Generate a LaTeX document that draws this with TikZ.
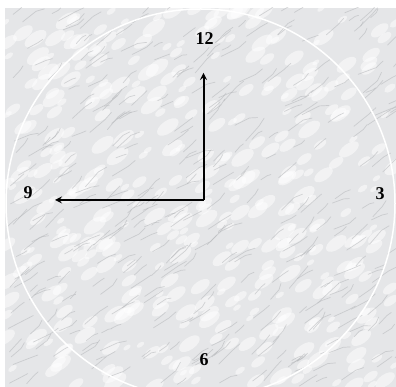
\documentclass[tikz,border=0pt]{standalone}
\usepackage{fontspec}
\setmainfont{Liberation Serif}
\usetikzlibrary{arrows}
\definecolor{marbre}{RGB}{229,230,232}
\definecolor{veine}{RGB}{180,182,185}
\tikzset{
  chiffre/.style={font=\fontsize{18}{18}\selectfont\bfseries, inner sep=0pt},
  aiguille/.style={line width=2pt, -stealth},
  tache/.style={white, opacity=.5},
  fil/.style={veine, line width=.7pt, opacity=.55, line cap=round, line join=round}
}

\begin{document}
\begin{tikzpicture}[x=1pt,y=1pt]
    \useasboundingbox (0,0) rectangle (396,387);
    \clip (0,0) rectangle (396,387);

    % Fond en marbre
    \fill[marbre] (5,0) rectangle (396,379);
    \begin{scope}
    \clip (5,0) rectangle (396,379);
    \pgfmathsetseed{7}
    \foreach \i in {1,...,420}{
      \pgfmathsetmacro{\mx}{391*rnd}
      \pgfmathsetmacro{\my}{379*rnd}
      \pgfmathsetmacro{\ma}{4+9*rnd}
      \fill[tache] (5+\mx,\my) ellipse[x radius=\ma, y radius=.5*\ma, rotate=35];
    }
    \foreach \i in {1,...,380}{
      \pgfmathsetmacro{\mx}{391*rnd}
      \pgfmathsetmacro{\my}{379*rnd}
      \pgfmathsetmacro{\ml}{6+14*rnd}
      \pgfmathsetmacro{\mr}{20+30*rnd}
      \draw[fil] (5+\mx,\my) -- ++(\mr:\ml) -- ++(\mr+50*rnd-25:.5*\ml);
    }
    \end{scope}

    % Cadran
    \draw[white, line width=1.5pt] (200.5,183.5) circle (194.5);

    % Chiffres
    \node[chiffre] (douze) at (204.5,348.5) {12};
    \node[chiffre] (trois) at (380,193) {3};
    \node[chiffre] (six) at (204,27.5) {6};
    \node[chiffre] (neuf) at (28,194.5) {9};

    % Aiguilles
    \coordinate (centre) at (203.5,187);
    \coordinate (haut) at (203.5,314);
    \coordinate (gauche) at (55,187);
    \draw[aiguille] (centre) -- (haut);
    \draw[aiguille] (centre) -- (gauche);
\end{tikzpicture}
\end{document}
